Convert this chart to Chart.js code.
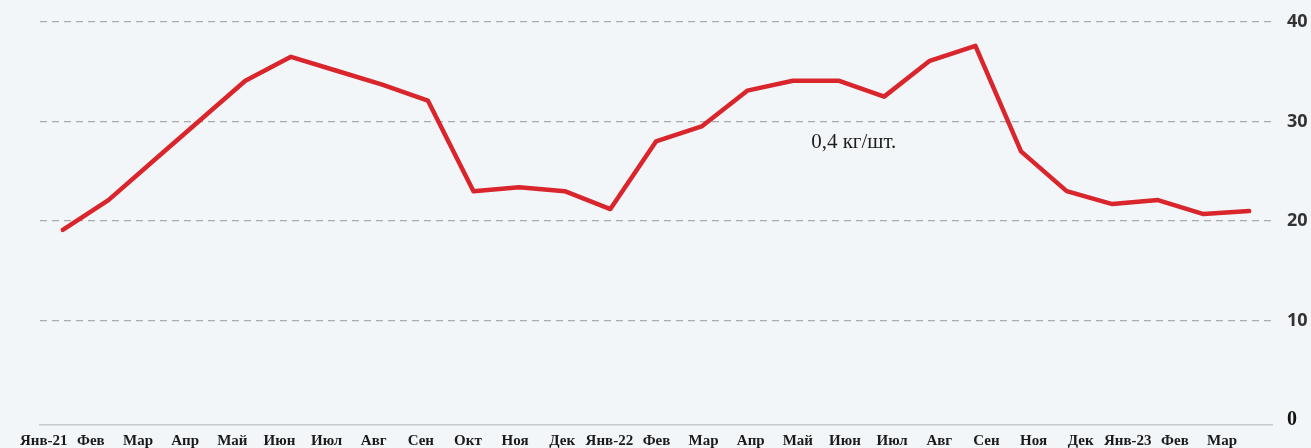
<!DOCTYPE html>
<html lang="ru">
<head>
<meta charset="utf-8">
<title>Цена, руб.</title>
<script src="https://cdn.jsdelivr.net/npm/chart.js@4.4.1/dist/chart.umd.min.js"></script>
<style>
    html, body { margin: 0; padding: 0; background: #f3f6f8; }
    #wrap { width: 1311px; height: 448px; position: relative; }
</style>
</head>
<body>
<div id="wrap"><canvas id="priceChart"></canvas></div>
<script>
    // Monthly points, Jan 2021 - Mar 2023
    const MONTHS = [
        'Янв-21', 'Фев', 'Мар', 'Апр', 'Май', 'Июн', 'Июл', 'Авг', 'Сен', 'Окт', 'Ноя', 'Дек',
        'Янв-22', 'Фев', 'Мар', 'Апр', 'Май', 'Июн', 'Июл', 'Авг', 'Сен', 'Окт', 'Ноя', 'Дек',
        'Янв-23', 'Фев', 'Мар'
    ];
    const PRICES = [
        19.1, 22.1, 26.1, 30.1, 34.1, 36.5, 35.1, 33.7, 32.1, 23.0, 23.4, 23.0,
        21.2, 28.0, 29.5, 33.1, 34.1, 34.1, 32.5, 36.1, 37.6, 27.0, 23.0, 21.7,
        22.1, 20.7, 21.0
    ];
    // Axis labels as printed under the chart (Oct-22 is missing in the source)
    const AXIS_LABELS = [
        'Янв-21', 'Фев', 'Мар', 'Апр', 'Май', 'Июн', 'Июл', 'Авг', 'Сен', 'Окт', 'Ноя', 'Дек',
        'Янв-22', 'Фев', 'Мар', 'Апр', 'Май', 'Июн', 'Июл', 'Авг', 'Сен', 'Ноя', 'Дек',
        'Янв-23', 'Фев', 'Мар'
    ];
    const Y_TICKS = [0, 10, 20, 30, 40];
    const NOTE = { text: '0,4 кг/шт.', x: 16.4, y: 27.9 };

    const notePlugin = {
        id: 'note',
        afterDatasetsDraw(chart) {
            const ctx = chart.ctx;
            const x = chart.scales.x.getPixelForValue(NOTE.x);
            const y = chart.scales.y.getPixelForValue(NOTE.y);
            ctx.save();
            ctx.font = '21px "Liberation Serif", "Times New Roman", serif';
            ctx.fillStyle = '#1e1e1e';
            ctx.textAlign = 'left';
            ctx.textBaseline = 'middle';
            ctx.fillText(NOTE.text, x, y);
            ctx.restore();
        }
    };

    const canvas = document.getElementById('priceChart');
    new Chart(canvas.getContext('2d'), {
        type: 'line',
        data: {
            labels: MONTHS,
            datasets: [
                {
                    data: PRICES,
                    borderColor: '#d9262c',
                    borderWidth: 4.5,
                    tension: 0,
                    pointRadius: 0,
                    borderJoinStyle: 'round',
                    borderCapStyle: 'round',
                    fill: false
                },
                {
                    // thin light core, gives the printed line its double edge
                    data: PRICES,
                    borderColor: 'rgba(238, 112, 115, 0.7)',
                    borderWidth: 1.4,
                    tension: 0,
                    pointRadius: 0,
                    borderJoinStyle: 'round',
                    fill: false
                }
            ]
        },
        options: {
            responsive: true,
            maintainAspectRatio: false,
            animation: false,
            layout: { padding: { left: 40, top: 22, right: 3, bottom: 0 } },
            plugins: {
                legend: { display: false },
                tooltip: { enabled: false }
            },
            scales: {
                x: {
                    type: 'category',
                    display: false,
                    offset: true
                },
                x2: {
                    type: 'linear',
                    position: 'bottom',
                    min: -0.08,
                    max: 26.06,
                    grid: { display: false, drawTicks: false },
                    border: { display: true, color: '#c6c8ca', width: 1.5 },
                    afterBuildTicks(axis) {
                        axis.ticks = AXIS_LABELS.map((_, i) => ({ value: i }));
                    },
                    afterFit(axis) {
                        axis.height = 23;
                    },
                    ticks: {
                        autoSkip: false,
                        maxRotation: 0,
                        padding: 7,
                        color: '#1a1a1a',
                        font: { family: '"Liberation Serif", "Times New Roman", serif', size: 15, weight: 'bold' },
                        callback: value => AXIS_LABELS[value]
                    }
                },
                y: {
                    position: 'right',
                    min: -0.5,
                    max: 40,
                    afterBuildTicks(axis) {
                        axis.ticks = Y_TICKS.map(v => ({ value: v }));
                    },
                    afterFit(axis) {
                        axis.width = 36;
                    },
                    grid: {
                        drawTicks: true,
                        tickLength: 15,
                        tickColor: 'rgba(0,0,0,0)',
                        lineWidth: 1.2,
                        color: ctx => (ctx.tick && ctx.tick.value === 0) ? 'rgba(0,0,0,0)' : '#a9abae'
                    },
                    border: { display: false, dash: [7, 5] },
                    ticks: {
                        padding: 0,
                        color: ctx => ctx.tick.value === 0 ? '#111' : '#333',
                        font: ctx => ctx.tick && ctx.tick.value === 0
                            ? { family: '"Liberation Serif", serif', size: 20, weight: 'bold' }
                            : { family: '"Open Sans", sans-serif', size: 18, weight: 'bold' }
                    }
                }
            }
        },
        plugins: [notePlugin]
    });
</script>
</body>
</html>
